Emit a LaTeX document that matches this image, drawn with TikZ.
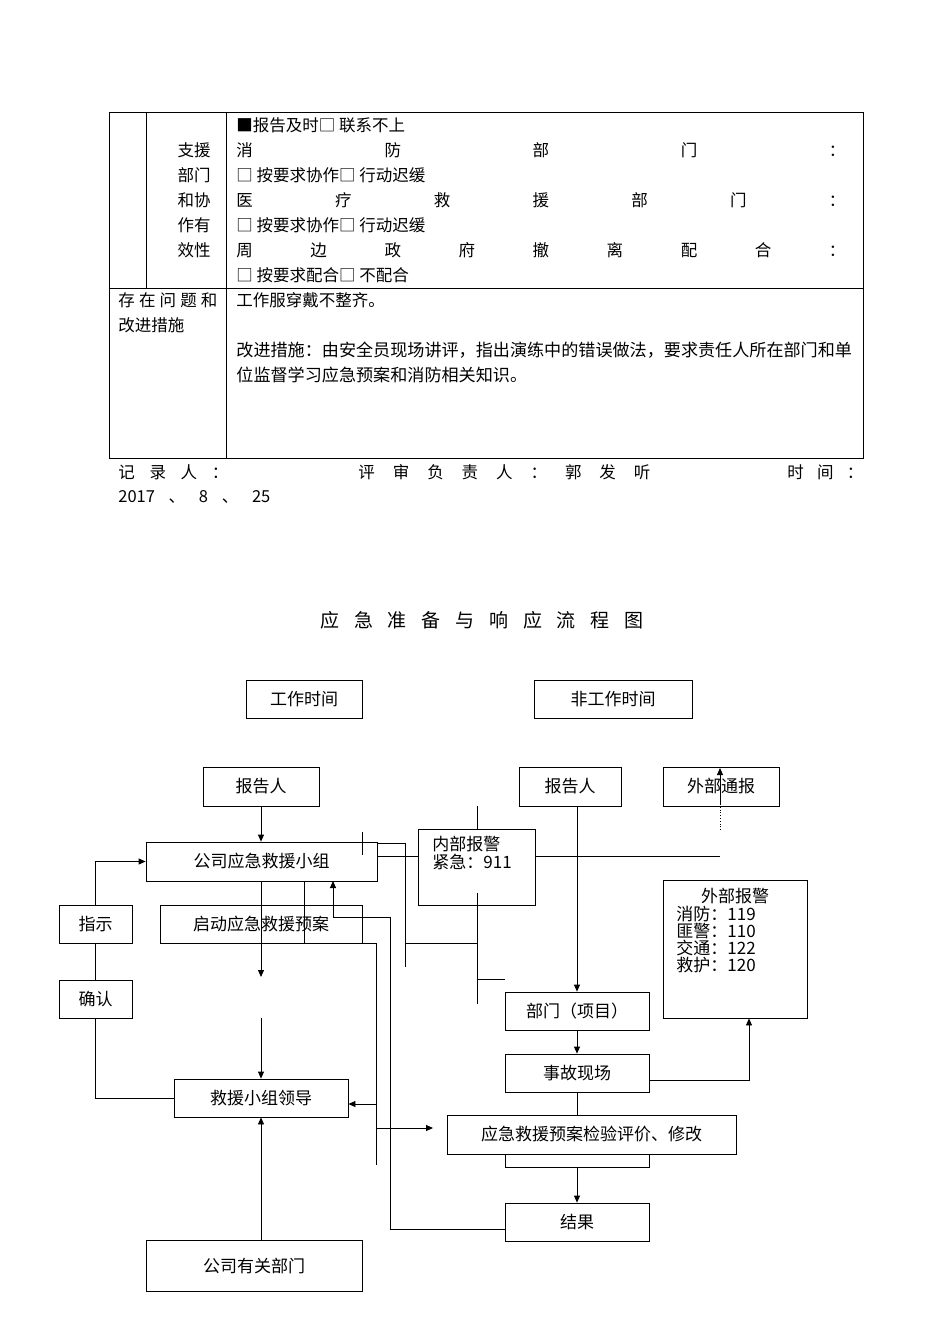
\documentclass[tikz,border=0pt]{standalone}
\usepackage{fontspec}
\setmainfont{Noto Sans CJK SC}
\usetikzlibrary{arrows.meta}
\newcommand{\bx}[6]{\node[box,minimum width={(#4-#2)*1pt},minimum height={(#5-#3)*1pt}] (#1) at ({(#2+#4)/2},{-(#3+#5)/2}) {#6};}
\begin{document}
\begin{tikzpicture}[x=1pt,y=1pt,line width=0.8pt,
  box/.style={draw,inner sep=0pt,font=\fontsize{17}{20}\selectfont,anchor=center},
  txt/.style={anchor=west,inner sep=0pt,font=\fontsize{16.5}{19}\selectfont},
  arr/.style={-{Triangle[length=7pt,width=6pt]}}]
\useasboundingbox (0,0) rectangle (950,-1344);
% table
\draw (109,-112) rectangle (863,-458);
\draw (146,-112) -- (146,-288);
\draw (226,-112) -- (226,-458);
\draw (109,-288) -- (863,-288);
\foreach \t/\y in {支援/150,部门/175,和协/200,作有/225,效性/250}
  \node[txt,anchor=center] (l\y) at (194,-\y) {\t};
\node[txt] (r1) at (236,-125) {■报告及时□ 联系不上};
\node[txt] (r2) at (236,-150) {\makebox[609pt][l]{消\hfill 防\hfill 部\hfill 门\hfill ：}};
\node[txt] (r3) at (236,-175) {□ 按要求协作□ 行动迟缓};
\node[txt] (r4) at (236,-200) {\makebox[609pt][l]{医\hfill 疗\hfill 救\hfill 援\hfill 部\hfill 门\hfill ：}};
\node[txt] (r5) at (236,-225) {□ 按要求协作□ 行动迟缓};
\node[txt] (r6) at (236,-250) {\makebox[609pt][l]{周\hfill 边\hfill 政\hfill 府\hfill 撤\hfill 离\hfill 配\hfill 合\hfill ：}};
\node[txt] (r7) at (236,-275) {□ 按要求配合□ 不配合};
\node[txt] (p1) at (118,-300) {\makebox[99pt][l]{存\hfill 在\hfill 问\hfill 题\hfill 和}};
\node[txt] (p2) at (118,-325) {改进措施};
\node[txt] (q1) at (236,-300) {工作服穿戴不整齐。};
\node[txt,font=\fontsize{17.1}{20}\selectfont] (q2) at (236,-350) {改进措施：由安全员现场讲评，指出演练中的错误做法，要求责任人所在部门和单};
\node[txt,font=\fontsize{17.1}{20}\selectfont] (q3) at (236,-375) {位监督学习应急预案和消防相关知识。};
\node[txt] (s1) at (118,-472) {\makebox[110pt][l]{记\hfill 录\hfill 人\hfill ：}};
\node[txt] (s2) at (358,-472) {\makebox[292pt][l]{评\hfill 审\hfill 负\hfill 责\hfill 人\hfill ：\hfill 郭\hfill 发\hfill 听}};
\node[txt] (s3) at (787,-472) {\makebox[76pt][l]{时\hfill 间\hfill ：}};
\node[txt] (s4) at (118,-497) {\makebox[152pt][l]{2017\hfill 、\hfill 8\hfill 、\hfill 25}};
\node[txt,font=\fontsize{19}{22}\selectfont] (title) at (320,-620) {\makebox[323pt][l]{应\hfill 急\hfill 准\hfill 备\hfill 与\hfill 响\hfill 应\hfill 流\hfill 程\hfill 图}};
% boxes
\bx{wt}{246}{680}{362}{718}{工作时间}
\bx{nwt}{534}{680}{692}{718}{非工作时间}
\bx{bgl}{203}{767}{319}{806}{报告人}
\bx{bgr}{519}{767}{621}{806}{报告人}
\bx{wbtb}{663}{767}{779}{806}{外部通报}
\bx{gs}{146}{842}{377}{881}{公司应急救援小组}
\bx{nb}{418}{829}{535}{905}{}
\node[txt,font=\fontsize{17}{20}\selectfont,align=left,anchor=north west] (nbt) at (432,-836) {内部报警\\[-2pt]紧急：911};
\bx{zs}{59}{905}{132}{943}{指示}
\bx{qd}{160}{905}{362}{943}{启动应急救援预案}
\bx{qr}{59}{980}{132}{1018}{确认}
\bx{wb}{663}{880}{807}{1018}{}
\node[txt,font=\fontsize{17}{20}\selectfont,anchor=center] (wbt) at (735,-896) {外部报警};
\node[txt,font=\fontsize{17}{20}\selectfont,align=left,anchor=north west] (wbl) at (676,-906) {消防：119\\[-3pt]匪警：110\\[-3pt]交通：122\\[-3pt]救护：120};
\bx{bm}{505}{992}{649}{1030}{部门（项目）}
\bx{sg}{505}{1054}{649}{1092}{事故现场}
\bx{ld}{174}{1079}{348}{1117}{救援小组领导}
\bx{jy}{447}{1115}{736}{1154}{应急救援预案检验评价、修改}
\bx{jg}{505}{1203}{649}{1241}{结果}
\bx{gsb}{146}{1240}{362}{1291}{公司有关部门}
% coordinates
\coordinate (a1) at (261,-977);
\coordinate (a2) at (261,-1018);
\coordinate (c1) at (304,-943);
\coordinate (c2) at (376,-943);
\coordinate (c3) at (376,-1165);
\coordinate (c4) at (376,-1104);
\coordinate (c5) at (376,-1128);
\coordinate (c6) at (433,-1128);
\coordinate (d1) at (333,-917);
\coordinate (d2) at (390,-917);
\coordinate (d3) at (390,-1229);
\coordinate (e1) at (405,-843);
\coordinate (e2) at (405,-967);
\coordinate (e3) at (405,-943);
\coordinate (f1) at (477,-806);
\coordinate (f2) at (477,-893);
\coordinate (f3) at (477,-1004);
\coordinate (f4) at (477,-979);
\coordinate (f5) at (505,-979);
\coordinate (g1) at (720,-856);
\coordinate (h1) at (720,-830);
\coordinate (h2) at (720,-805);
\coordinate (h3) at (720,-768);
\coordinate (k1) at (577,0);
\coordinate (k2) at (261,0);
% connectors
\draw[arr] (bgl.south) -- (gs.north -| bgl.south);
\draw[arr] (gs.south -| k2) -- (a1);
\draw[arr] (a2) -- (ld.north -| a2);
\draw[arr] (gsb.north -| k2) -- (ld.south -| k2);
\draw[arr] (zs.north) |- (gs.west);
\draw (zs.south) -- (qr.north);
\draw (qr.south) |- (ld.west);
\draw (304,-881) -- (c1) -- (c2) -- (c3);
\draw[arr] (c4) -- (ld.east |- c4);
\draw[arr] (c5) -- (c6);
\draw[arr] (d2) -- (d1) -- (333,-881);
\draw (d2) -- (d3) -- (jg.west |- d3);
\draw (377,-843) -- (e1) -- (e2);
\draw (362,-832) -- (362,-855);
\draw (377,-856) -- (nb.west |- 0,-856);
\draw (nb.east |- 0,-856) -- (g1);
\draw (f1) -- (nb.north -| f1);
\draw (f2) -- (f3);
\draw (e3) -- (477,-943);
\draw (f4) -- (f5);
\draw[arr] (bgr.south -| k1) -- (bm.north -| k1);
\draw[dotted] (h1) -- (h2);
\draw[arr] (h2) -- (h3);
\draw[arr] (bm.south -| k1) -- (sg.north -| k1);
\draw[arr] (sg.east |- 0,-1080) -| (wb.south -| 749,0);
\draw (sg.south -| k1) -- (jy.north -| k1);
\draw (505,-1154) -- (505,-1167) -- (649,-1167) -- (649,-1154);
\draw[arr] (577,-1167) -- (jg.north -| k1);
\end{tikzpicture}
\end{document}
